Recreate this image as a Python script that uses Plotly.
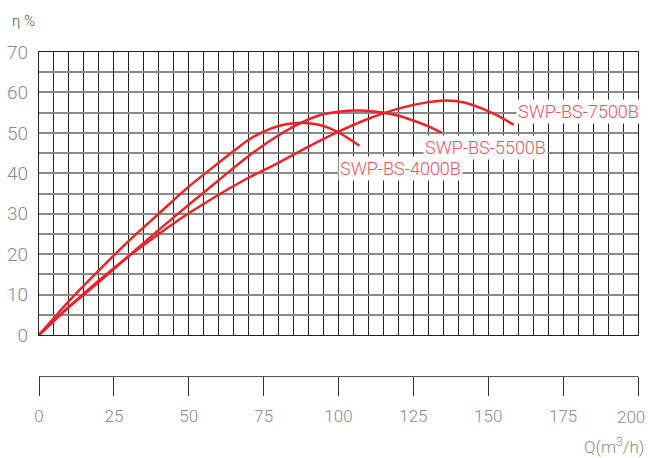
import plotly.graph_objects as go

q_4000 = [0, 10, 20, 30, 40, 50, 60, 65, 70, 75, 80, 85, 90, 95, 100, 107]
eta_4000 = [0, 8.4, 16.0, 23.3, 30.0, 36.7, 42.6, 45.5, 48.3, 50.3, 51.7, 52.4, 52.4, 51.7, 50.1, 46.8]

q_5500 = [0, 10, 20, 30, 40, 50, 60, 70, 80, 87, 94, 100, 106, 112, 118, 124, 130, 134.5]
eta_5500 = [0, 6.9, 13.1, 19.6, 26.0, 32.2, 38.3, 44.3, 49.4, 52.3, 54.4, 55.2, 55.5, 55.3, 54.6, 53.3, 51.6, 50.0]

q_7500 = [0, 10, 20, 30, 40, 50, 60, 70, 80, 90, 100, 110, 120, 130, 136, 142, 148, 153, 158.5]
eta_7500 = [0, 7.0, 13.5, 19.5, 25.0, 30.1, 34.7, 38.9, 42.6, 46.6, 50.3, 53.5, 56.0, 57.6, 58.0, 57.5, 56.0, 54.3, 52.0]

labels = ["SWP-BS-7500B", "SWP-BS-5500B", "SWP-BS-4000B"]
label_x = [159.3, 128.3, 99.7]
label_y = [55.3, 46.4, 41.3]

x_ticks = [0, 25, 50, 75, 100, 125, 150, 175, 200]
x_tick_text = [str(v) for v in x_ticks]
y_ticks = [0, 10, 20, 30, 40, 50, 60, 70]

RED = "#ee2229"
FONT = "Roboto"
GRAY = "#8a8a8a"

fig = go.Figure()
for q, e in [(q_4000, eta_4000), (q_5500, eta_5500), (q_7500, eta_7500)]:
    fig.add_trace(go.Scatter(x=q, y=e, mode="lines", line=dict(color=RED, width=2.5, shape="spline", smoothing=0.8),
                             showlegend=False, hoverinfo="skip"))

# invisible trace to realise the lower, free-standing axis
fig.add_trace(go.Scatter(x=[0, 200], y=[None, None], xaxis="x2", yaxis="y", mode="lines",
                         showlegend=False, hoverinfo="skip"))

for t, x, y in zip(labels, label_x, label_y):
    fig.add_annotation(x=x, y=y, text=t, showarrow=False, xanchor="left", yanchor="middle",
                       font=dict(family=FONT, size=18, color="#f4505a", weight=300),
                       bgcolor="white", borderpad=1)

# last x tick label drawn as annotation so it is not clipped at the plot edge
fig.add_annotation(xref="x2", yref="paper", x=x_ticks[-1], y=0, yshift=-41, xshift=9,
                   text=x_tick_text[-1], showarrow=False, xanchor="right", yanchor="middle",
                   font=dict(family=FONT, size=17, color=GRAY, weight=300))

fig.add_annotation(xref="paper", yref="paper", x=1.0, y=-0.215, text="Q(m<sup>3</sup>/h)", showarrow=False,
                   xanchor="right", yanchor="middle", xshift=8,
                   font=dict(family=FONT, size=17, color=GRAY, weight=300))
fig.add_annotation(xref="paper", yref="paper", x=-0.048, y=1.095, text="η %", showarrow=False,
                   xanchor="left", yanchor="middle", font=dict(family=FONT, size=15, color="#555", weight=300))

fig.update_layout(
    width=648, height=458,
    margin=dict(l=39, r=10, t=52, b=82, autoexpand=False),
    paper_bgcolor="white", plot_bgcolor="white",
    xaxis=dict(range=[0, 200], showticklabels=False, ticks="", dtick=25, automargin=False,
               showgrid=True, gridcolor="#222", gridwidth=1,
               minor=dict(dtick=5, showgrid=True, gridcolor="#222", gridwidth=1),
               showline=True, linecolor="#222", linewidth=1.2, mirror=True, zeroline=False,
               fixedrange=True),
    xaxis2=dict(range=[0, 200], overlaying="x", anchor="free", position=0, side="bottom",
                automargin=False,
                tickvals=x_ticks, ticktext=x_tick_text[:-1] + [""],
                ticks="outside", ticklen=19, tickcolor="#333", tickwidth=1,
                ticklabelstandoff=5,
                showline=True, linecolor="#555", linewidth=1.2, showgrid=False, zeroline=False,
                tickfont=dict(family=FONT, size=17, color=GRAY, weight=300)),
    yaxis=dict(range=[0, 70], domain=[0.1265, 1], tickvals=y_ticks, ticks="", automargin=False,
               showgrid=True, gridcolor="#8a8a8a", gridwidth=1.5,
               minor=dict(dtick=5, showgrid=True, gridcolor="#8a8a8a", gridwidth=1.5),
               showline=True, linecolor="#222", linewidth=1.2, mirror=True, zeroline=False,
               ticklabelstandoff=6,
               tickfont=dict(family=FONT, size=19, color=GRAY, weight=300)),
)

fig.write_html("out.html", config={"displayModeBar": False},
               post_script="document.body.style.margin='0';document.body.style.overflow='hidden';")
